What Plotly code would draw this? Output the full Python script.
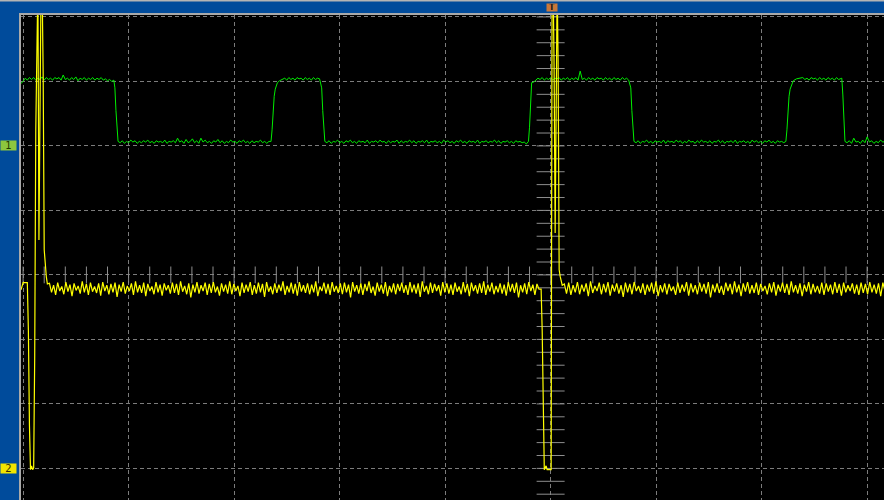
import plotly.graph_objects as go

# Oscilloscope capture: time in samples (100 samples / div), level in 1/100 div
# ---------------- Channel 1 (green) ----------------
g_hi1 = [297,300,305,302,306,303,306,302,305,303,307,302,306,303,305,302,306,304,306,302,310,303,305,302,306,303,307,301,305,303,306,302,305,303,306,302,305,303,306,302,304,301,303,300,302]
g_fall1_x = [-413, -412, -411, -410]
g_fall1_y = [290, 255, 222, 207]
g_lo1 = [205,208,204,207,205,209,206,208,204,207,205,208,206,209,205,207,204,208,206,207,205,209,204,207,206,208,205,212,206,208,204,210,205,207,211,205,208,204,212,206,209,205,207,204,208,206,210,205,208,204,207,205,209,206,207,204,208,206,209,205,207,204,208,205,207,206,209,205,207,204,207]
g_rise1_x = [-265, -264, -263, -262, -261, -260, -259, -257, -254]
g_rise1_y = [207, 225, 260, 277, 288, 294, 298, 301, 304]
g_hi2 = [305,302,306,303,305,302,306,304,305,302,306,303,305,302,306,303,305,304]
g_fall2_x = [-217, -216, -215, -214]
g_fall2_y = [290, 255, 222, 207]
g_lo2 = [205,208,204,207,206,209,205,207,204,208,206,209,205,207,204,208,206,207,205,209,204,207,206,208,205,209,206,207,204,208,205,207,206,209,204,208,205,207,206,209,205,208,204,207,206,208,205,209,204,207,206,208,205,207,204,209,206,208,205,207,204,208,206,209,205,207,204,208,206,207,205,209,204,207,206,208,205,207,206,209,205,208,204,207,206,208,205,207,204,208,206,207,205,206,203]
g_rise2_x = [-21, -20, -19, -18, -16, -14, -12]
g_rise2_y = [207, 229, 275, 298, 299, 302, 305]
g_hi3 = [303,306,302,305,303,306,302,305,304,306,302,305,303,306,302,305,303,306,302,316,303,305,302,306,303,305,302,306,304,305,302,306,303,305,302,306,303,305,302,306,303,305,302]
g_fall3_x = [76, 77, 78, 79]
g_fall3_y = [290, 255, 222, 207]
g_lo3 = [205,208,204,207,206,209,205,207,204,208,206,207,205,209,204,208,206,207,205,209,206,208,204,207,205,209,206,207,204,208,205,209,206,207,205,208,204,207,206,209,205,208,204,207,206,208,205,209,204,207,206,208,205,207,204,209,206,208,205,207,204,208,206,209,205,207,204,208,206,207,205]
g_rise3_x = [223, 224, 225, 226, 227, 229, 230, 233, 237]
g_rise3_y = [207, 225, 260, 277, 288, 298, 301, 304, 306]
g_hi4 = [306,303,305,302,306,304,305,302,306,303,305,302,306,303,305,302,306,303,305]
g_fall4_x = [276, 277, 278, 279]
g_fall4_y = [305, 279, 231, 207]
g_lo4 = [205,208,204,212,206,207,204,209,205,214,206,208,204,207,205,209,206,207]

# ---------------- Channel 2 (yellow) ----------------
y_spike1_x = [-502, -500, -496, -495, -494, -493, -492, -491, -490, -489, -488, -487, -486, -485, -484, -483, -482, -481, -480, -479, -478, -477]
y_spike1_y = [-23, -12, -12, -87, -233, -302, -296, -302, -299, -124, 225, 450, 450, 54, 344, 450, 450, 313, 39, 10, -3, -14]
y_noise1 = [
    -13,-27,-16,-31,-12,-25,-18,-30,-11,-26,-15,-33,-13,-24,-17,-29,-10,-27,-14,-31,
    -12,-26,-18,-28,-13,-32,-11,-25,-16,-30,-14,-27,-12,-34,-15,-26,-11,-29,-17,-25,
    -13,-31,-10,-27,-16,-28,-12,-33,-14,-25,-18,-30,-11,-27,-15,-32,-13,-24,-16,-29,
    -12,-28,-14,-31,-10,-26,-17,-30,-13,-35,-15,-27,-11,-29,-16,-25,-12,-31,-14,-28,
    -11,-27,-18,-32,-13,-26,-15,-29,-10,-30,-14,-25,-17,-33,-12,-28,-15,-26,-11,-31,
    -16,-29,-12,-27,-14,-34,-11,-26,-18,-30,-13,-28,-15,-25,-10,-31,-17,-27,-12,-29,
    -14,-32,-11,-26,-16,-28,-13,-30,-15,-27,-10,-33,-18,-25,-12,-29,-14,-31,-11,-26,
    -17,-28,-13,-30,-12,-27,-15,-35,-11,-26,-16,-29,-13,-31,-14,-25,-10,-28,-18,-32,
    -12,-26,-15,-29,-11,-33,-17,-27,-13,-30,-14,-25,-12,-28,-16,-31,-11,-27,-15,-29,
    -13,-34,-10,-26,-17,-30,-12,-28,-14,-25,-16,-32,-11,-27,-13,-29,-15,-31,-12,-26,
    -18,-30,-11,-27,-14,-33,-12,-25,-16,-29,-13,-28,-10,-31,-15,-26,-12,-30,-17,-27,
    -13,-29,-15,-32,-11,-26,-14,-28,-12,-35,-16,-27,-13,-30,-11,-25,-15,-31,-14,-22]
y_spike2_x = [-9, -8, -7, -6, -4.3, -3.3, 0.5, 1.4, 2.4, 3.3, 4.3, 5.2, 6.2, 7.1, 8.1, 9, 10, 11]
y_spike2_y = [-22, -85, -233, -302, -296, -302, -302, 450, 450, 320, 65, 450, 450, 330, 8, -2, -8, -16]
y_noise2 = [
    -14,-29,-12,-31,-16,-27,-11,-30,-15,-26,-13,-33,-10,-28,-17,-25,-12,-30,-14,-27,
    -11,-32,-15,-26,-13,-29,-16,-34,-12,-27,-14,-30,-11,-25,-17,-28,-13,-31,-15,-26,
    -12,-29,-10,-33,-16,-27,-13,-30,-14,-25,-18,-31,-12,-28,-15,-26,-11,-32,-13,-27,
    -16,-30,-12,-26,-14,-29,-11,-35,-15,-27,-13,-28,-17,-31,-12,-25,-14,-30,-10,-27,
    -15,-33,-13,-26,-11,-29,-16,-28,-12,-31,-14,-25,-17,-30,-13,-27,-11,-32,-15,-26,
    -12,-28,-14,-31,-10,-27,-16,-29,-13,-33,-15,-26,-11,-30,-14,-27,-17,-29,-12,-31,
    -13,-26,-15,-30,-11,-28,-14,-32,-12,-27,-16,-25,-13,-29,-15,-31,-12,-28,-14,-30,
    -11,-27,-15,-29,-13,-33,-12,-26]

X_RANGE = [-502, 316]
Y_RANGE = [-349, 403]


def seg(start, end, vals):
    n = len(vals)
    step = (end - start) / (n - 1)
    return [start + i * step for i in range(n)], list(vals)


def build(parts):
    xs, ys = [], []
    for px, py in parts:
        xs += px
        ys += py
    return xs, ys


gx, gy = build([
    seg(-502, -414, g_hi1), (g_fall1_x, g_fall1_y),
    seg(-408, -267, g_lo1), (g_rise1_x, g_rise1_y),
    seg(-252, -219, g_hi2), (g_fall2_x, g_fall2_y),
    seg(-212, -23, g_lo2), (g_rise2_x, g_rise2_y),
    seg(-10, 74, g_hi3), (g_fall3_x, g_fall3_y),
    seg(81, 221, g_lo3), (g_rise3_x, g_rise3_y),
    seg(239, 275, g_hi4), (g_fall4_x, g_fall4_y),
    seg(281, 317, g_lo4),
])

yx, yy = build([
    (y_spike1_x, y_spike1_y),
    seg(-475, -11, y_noise1),
    (y_spike2_x, y_spike2_y),
    seg(13, 317, y_noise2),
])

GRID = '#7c7c7c'
TICK = '#8e8e8e'

fig = go.Figure()

# center graticule minor ticks
vt = list(range(-340, 401, 20))
fig.add_trace(go.Scatter(x=[0] * len(vt), y=vt, mode='markers', hoverinfo='skip',
                         marker=dict(symbol='line-ew', size=20, line=dict(width=1, color=TICK))))
ht = list(range(-500, 317, 20))
fig.add_trace(go.Scatter(x=ht, y=[0] * len(ht), mode='markers', hoverinfo='skip',
                         marker=dict(symbol='line-ns', size=12, line=dict(width=1, color=TICK))))

fig.add_trace(go.Scatter(x=gx, y=gy, mode='lines', line=dict(color='#00ee00', width=1), hoverinfo='skip'))
fig.add_trace(go.Scatter(x=yx, y=yy, mode='lines', line=dict(color='#ffff00', width=1.2), hoverinfo='skip'))

fig.update_layout(
    width=884, height=500,
    margin=dict(l=21, r=0, t=15, b=0),
    paper_bgcolor='#004b9b', plot_bgcolor='#000000',
    showlegend=False,
    xaxis=dict(range=X_RANGE, dtick=100, tick0=0, showgrid=True, gridcolor=GRID, griddash='4px,3px',
               gridwidth=1, zeroline=False, showticklabels=False, ticks='', side='top',
               showline=True, linecolor='#a9a9a9', linewidth=2, fixedrange=True),
    yaxis=dict(range=Y_RANGE, dtick=100, tick0=0, showgrid=True, gridcolor=GRID, griddash='4px,3px',
               gridwidth=1, zeroline=False, showticklabels=False, ticks='',
               showline=True, linecolor='#a9a9a9', linewidth=2, fixedrange=True),
    shapes=[dict(type='line', xref='paper', yref='paper', x0=-0.05, x1=1.01, y0=1.0299, y1=1.0299,
                 line=dict(color='#b4b4b4', width=2))],
    annotations=[
        dict(xref='paper', yref='y', x=0, y=200, xanchor='right', xshift=-4, text='1', showarrow=False,
             bgcolor='#8cc63e', font=dict(color='#1c3a00', size=10, family='DejaVu Sans'),
             width=15, height=9, borderpad=0),
        dict(xref='paper', yref='y', x=0, y=-300, xanchor='right', xshift=-4, text='2', showarrow=False,
             bgcolor='#f2e400', font=dict(color='#3a3000', size=10, family='DejaVu Sans'),
             width=15, height=9, borderpad=0),
        dict(xref='x', yref='paper', x=1, y=1, yanchor='bottom', yshift=3, text='<b>T</b>', showarrow=False,
             bgcolor='#c8783a', font=dict(color='#1a1a1a', size=8, family='DejaVu Sans'),
             width=10, height=7, borderpad=0),
    ],
)

fig.write_html('out.html', config={'displayModeBar': False},
               post_script="document.body.style.margin='0px';document.body.style.overflow='hidden';")
